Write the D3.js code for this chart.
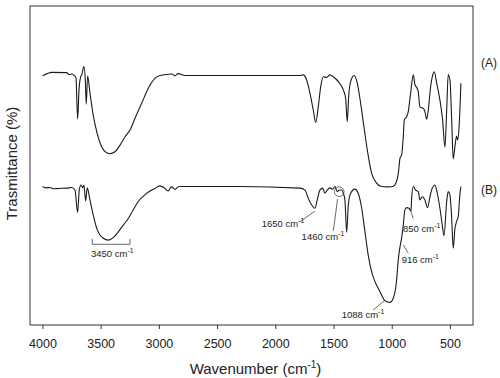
<!doctype html>
<html>
<head>
    <style>
        body { margin: 0; background: #fff; }
        svg { display: block; }
        text { font-family: 'Liberation Sans', Arial, sans-serif; fill: #222; }
        .tick text { font-size: 12.5px; }
        .tick line { stroke: #333; }
        text.title { font-size: 15px; }
        text.note { font-size: 9.5px; }
        text.series { font-size: 12px; }
        .spec { fill: none; stroke: #1a1a1a; stroke-width: 1.1; }
        .lead { stroke: #444; stroke-width: 0.8; fill: none; }
    </style>
    <script src="https://d3js.org/d3.v7.min.js"></script>
</head>
<body>
<svg width="500" height="378"></svg>
<script>
    // wavenumber (cm-1) and transmittance (arbitrary %)
    const waveA = [4000, 3918, 3792, 3772, 3747, 3727, 3712, 3698, 3686, 3672, 3663, 3644, 3632, 3624, 3612,
        3592, 3564, 3534, 3492, 3449, 3420, 3377, 3334, 3291, 3248, 3205, 3148, 3091, 3034, 2991,
        2888, 2862, 2836, 2776, 2300, 1788, 1760, 1731, 1702, 1674, 1653, 1631, 1610, 1588, 1559, 1531,
        1502, 1459, 1416, 1396, 1382, 1370, 1353, 1324, 1296, 1267, 1239, 1210, 1173, 1130, 1101, 1033,
        990, 964, 942, 929, 915, 901, 892, 872, 858, 838, 815, 801, 786, 772, 758, 729, 715, 700, 686,
        666, 652, 635, 614, 586, 563, 543, 528, 515, 500, 485, 472, 457, 443, 434, 420, 406];
    const transA = [78.1, 79.2, 79.1, 78.5, 78.7, 78.2, 77.4, 64.6, 73.7, 77.8, 78.4, 81.0, 76.8, 69.2, 78.1,
        72.7, 65.8, 60.6, 55.9, 54.0, 53.7, 54.3, 56.4, 59.0, 61.1, 64.8, 69.5, 74.2, 77.3, 78.2,
        78.7, 78.1, 78.8, 78.2, 78.2, 78.2, 78.4, 76.8, 72.6, 67.4, 63.5, 68.4, 74.7, 77.8, 77.6, 78.4,
        77.8, 76.3, 73.7, 71.1, 63.7, 71.6, 76.3, 78.2, 75.8, 69.5, 62.2, 54.9, 47.6, 44.5, 43.6, 43.3,
        43.4, 44.5, 48.0, 52.3, 53.3, 59.0, 64.3, 65.3, 66.9, 72.6, 78.4, 75.4, 74.5, 73.1, 68.4, 67.9, 66.9, 64.5, 67.4,
        74.7, 77.8, 79.4, 75.8, 70.5, 64.3, 55.7, 67.4, 78.4, 76.8, 64.3, 52.1, 56.0, 59.2, 58.0, 63.2, 75.8];

    const waveB = [4000, 3970, 3936, 3901, 3867, 3792, 3749, 3721, 3698, 3684, 3669, 3655, 3644, 3629, 3615,
        3592, 3564, 3534, 3506, 3478, 3435, 3392, 3349, 3306, 3263, 3220, 3177, 3120, 3062, 3034, 2995,
        2956, 2922, 2892, 2862, 2828, 2304, 1788, 1745, 1717, 1688, 1660, 1640, 1617, 1593, 1574, 1554,
        1531, 1507, 1488, 1468, 1451, 1430, 1416, 1402, 1387, 1373, 1353, 1316, 1288, 1258, 1230, 1202,
        1173, 1144, 1116, 1087, 1058, 1015, 987, 958, 944, 929, 915, 901, 887, 872, 852, 835, 829, 815,
        795, 772, 758, 738, 715, 692, 672, 652, 629, 609, 586, 566, 551, 528, 515, 500, 485, 472, 457,
        443, 429, 415, 406];
    const transB = [43.4, 43.0, 43.1, 42.7, 42.8, 42.9, 43.1, 42.3, 35.3, 42.3, 43.9, 43.0, 43.9, 38.9, 43.0,
        39.2, 34.5, 30.3, 28.2, 27.2, 26.6, 27.4, 29.2, 31.3, 33.4, 36.1, 38.7, 40.8, 42.3, 42.8, 43.6,
        43.1, 42.0, 43.3, 42.5, 43.4, 43.4, 42.9, 42.3, 39.7, 37.6, 36.6, 39.2, 42.3, 42.9, 41.3, 42.3,
        43.0, 42.6, 43.4, 41.8, 42.3, 42.3, 41.3, 39.2, 29.1, 37.6, 41.3, 42.6, 41.3, 36.6, 29.2, 21.9,
        16.7, 13.6, 11.5, 9.4, 7.6, 7.1, 8.4, 14.1, 20.4, 24.5, 27.3, 31.3, 36.1, 36.8, 36.6, 35.7, 39.7, 43.4,
        42.3, 41.8, 39.2, 40.2, 39.2, 36.8, 40.2, 42.9, 43.9, 41.3, 36.6, 31.3, 28.0, 38.7, 41.8, 40.8, 33.4, 24.1, 30.3,
        32.4, 33.9, 40.8, 43.4];

    const xTicks = [4000, 3500, 3000, 2500, 2000, 1500, 1000, 500];

    // band labels: text start, leader line from/to (all in data units)
    const notes = [
        { label: '3450 cm', at: [3583, 21.2], lead: null },
        { label: '1650 cm', at: [2117, 30.8], lead: [[1788, 32.4], [1660, 35.7]] },
        { label: '1460 cm', at: [1774, 26.6], lead: [[1502, 29.5], [1465, 39.5]] },
        { label: '850 cm', at: [903, 29.2], lead: [[815, 33.4], [844, 36.6]] },
        { label: '916 cm', at: [915, 19.3], lead: [[858, 22.5], [901, 25.1]] },
        { label: '1088 cm', at: [1430, 2.1], lead: [[1159, 4.7], [1058, 7.8]] }
    ];
    const bracket = [3572, 3248, 25.3, 27.0];
    const ring = [1451, 41.8];
    const seriesNames = [['(A)', 80.9], ['(B)', 41.1]];

    const svg = d3.select('svg');
    const margin = { top: 6, right: 27, bottom: 53, left: 30 };
    const width = 500 - margin.left - margin.right;
    const height = 378 - margin.top - margin.bottom;

    const chart = svg.append('g')
        .attr('transform', `translate(${margin.left}, ${margin.top})`);

    const x = d3.scaleLinear().domain([4107, 302]).range([0, width]);
    const y = d3.scaleLinear().domain([0, 100]).range([height, 0]);

    chart.append('g')
        .attr('transform', `translate(0, ${height})`)
        .call(d3.axisBottom(x).tickValues(xTicks).tickSize(4).tickPadding(10).tickFormat(d3.format('d')))
        .call(g => g.select('.domain').remove());

    chart.append('rect')
        .attr('width', width)
        .attr('height', height)
        .attr('fill', 'none')
        .attr('stroke', '#333')
        .attr('stroke-width', 1);

    const line = d3.line()
        .x(d => x(d[0]))
        .y(d => y(d[1]))
        .curve(d3.curveMonotoneX);

    chart.append('path').attr('class', 'spec').attr('d', line(d3.zip(waveA, transA)));
    chart.append('path').attr('class', 'spec').attr('d', line(d3.zip(waveB, transB)));

    // bracket under the OH band
    chart.append('path').attr('class', 'lead')
        .attr('d', `M${x(bracket[0])},${y(bracket[3])}V${y(bracket[2])}H${x(bracket[1])}V${y(bracket[3])}`);

    chart.append('circle').attr('class', 'lead')
        .attr('cx', x(ring[0])).attr('cy', y(ring[1])).attr('r', 4.8);

    notes.forEach(n => {
        if (n.lead) {
            chart.append('line').attr('class', 'lead')
                .attr('x1', x(n.lead[0][0])).attr('y1', y(n.lead[0][1]))
                .attr('x2', x(n.lead[1][0])).attr('y2', y(n.lead[1][1]));
        }
        const t = chart.append('text').attr('class', 'note')
            .attr('x', x(n.at[0])).attr('y', y(n.at[1]))
            .text(n.label);
        t.append('tspan').attr('dy', -4).attr('font-size', '7px').text('-1');
    });

    seriesNames.forEach(s => {
        chart.append('text').attr('class', 'series')
            .attr('x', width + 8).attr('y', y(s[1]))
            .text(s[0]);
    });

    const xt = svg.append('text').attr('class', 'title')
        .attr('x', margin.left + width / 2 + 4)
        .attr('y', 374)
        .attr('text-anchor', 'middle')
        .text('Wavenumber (cm');
    xt.append('tspan').attr('dy', -6).attr('font-size', '10px').text('-1');
    xt.append('tspan').attr('dy', 6).text(')');

    svg.append('text').attr('class', 'title')
        .attr('transform', `translate(17, ${margin.top + height / 2 - 2}) rotate(-90)`)
        .attr('text-anchor', 'middle')
        .text('Trasmittance (%)');
</script>
</body>
</html>
